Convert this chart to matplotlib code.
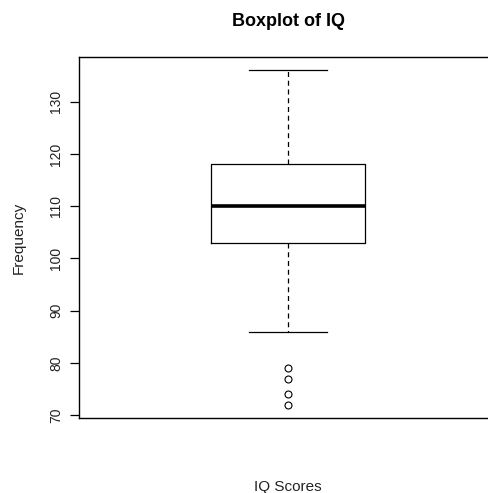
import matplotlib
matplotlib.use("Agg")
import matplotlib.pyplot as plt

plt.rcParams['font.family'] = ['Liberation Sans', 'DejaVu Sans']

# resumen de los puntajes de IQ
etiqueta = "IQ Scores"
bigote_inf = 86
q1 = 103
mediana = 110
q3 = 118
bigote_sup = 136
atipicos = [79, 77, 74, 72]
marcas_y = [70, 80, 90, 100, 110, 120, 130]

stats = [{
    "label": etiqueta,
    "whislo": bigote_inf,
    "q1": q1,
    "med": mediana,
    "q3": q3,
    "whishi": bigote_sup,
    "fliers": atipicos,
}]

fig = plt.figure(figsize=(4.88, 4.93), dpi=100)
# el area del grafico sigue mas alla del borde derecho
ax = fig.add_axes([79/488, 75/493, 418/488, 361/493])

ax.bxp(stats, positions=[1], widths=0.4, showfliers=True,
       boxprops=dict(color="black", linewidth=0.9),
       medianprops=dict(color="black", linewidth=2.6, solid_capstyle="butt"),
       whiskerprops=dict(color="black", linewidth=0.9, linestyle=(0, (4, 3))),
       capprops=dict(color="black", linewidth=0.9),
       capwidths=0.2,
       flierprops=dict(marker="o", markersize=5, markerfacecolor="none",
                       markeredgecolor="black", markeredgewidth=0.8))

ax.set_xlim(0.46, 1.54)
ax.set_ylim(69.44, 138.56)
ax.set_xticks([])
ax.set_yticks(marcas_y)
ax.set_yticklabels([str(v) for v in marcas_y], rotation=90, va="center", fontsize=10, color="#222222")
ax.tick_params(axis="y", length=6.5, width=0.9, pad=5)

for s in ax.spines.values():
    s.set_linewidth(1.0)
    s.set_color("black")

ax.set_title("Boxplot of IQ", fontsize=13, fontweight="bold", pad=22)
ax.set_ylabel("Frequency", fontsize=11, labelpad=17, color="#222222")
ax.set_xlabel(etiqueta, fontsize=11, labelpad=45, color="#222222")

fig.savefig("out.png", dpi=100)
